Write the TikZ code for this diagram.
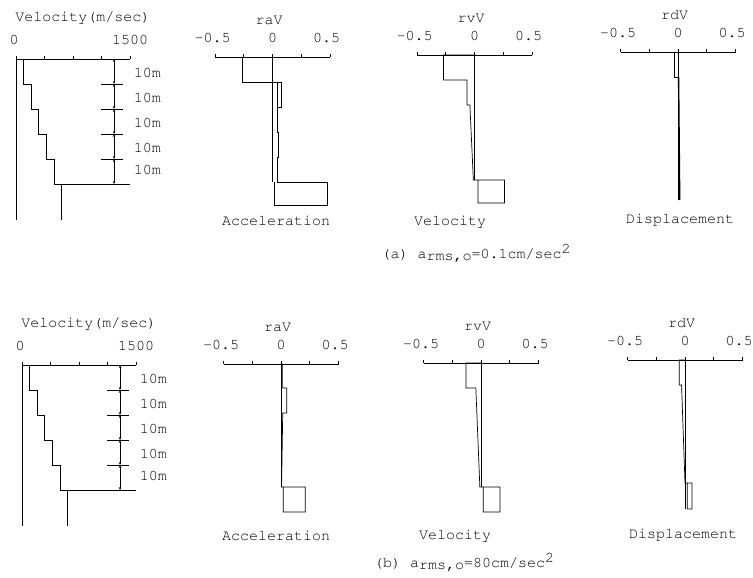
\documentclass[tikz,border=0pt]{standalone}
\usepackage{fontspec}
\setmonofont{Liberation Mono}
\usetikzlibrary{arrows.meta}
\tikzset{ % common looks
	axisline/.style={line width=0.7pt},
	prof/.style={line width=0.7pt},
	thickprof/.style={line width=1.4pt},
	lbl/.style={font=\fontencoding{T1}\fontfamily{pcr}\fontsize{15}{15}\selectfont, inner sep=0pt},
	dimline/.style={line width=0.6pt, {Stealth[length=3pt,width=2.5pt]}-{Stealth[length=3pt,width=2.5pt]}},
}
% response panel: name, zero x, axis y, title, zero line depth, profile, extra
\newcommand{\respanel}[7]{%
	\begin{scope}[shift={(#2,#3)},xscale=115]
		\draw [axisline] (-0.5,0) -- (0.5,0);
		\foreach \t in {-0.5,-0.25,0,0.25,0.5} \draw [axisline] (\t,0) -- (\t,-3);
		\node [lbl] (#1m) at (-0.52,-19) {-0.5};
		\node [lbl] (#1z) at (0,-19) {0};
		\node [lbl] (#1p) at (0.47,-19) {0.5};
		\node [lbl] (#1t) at (-0.03,-37) {#4};
		\draw [prof] (0,0) -- (0,#5);
		\draw [prof] #6;
		#7
	\end{scope}}
% soil profile: name, x0, y0
\newcommand{\velpanel}[3]{%
	\begin{scope}[shift={(#2,#3)},xscale=0.076]
		\draw [axisline] (0,0) -- (1500,0);
		\foreach \t in {0,375,...,1500} \draw [axisline] (\t,0) -- (\t,-3);
		\node [lbl] (#1zero) at (-25,-19) {0};
		\node [lbl] (#1max) at (1500,-19) {1500};
		\node [lbl] (#1title) at (880,-41) {Velocity(m/sec)};
		\draw [prof] (0,0) -- (0,161);
		\draw [prof] (100,0) -- (100,25) -- (200,25) -- (200,50) -- (300,50) -- (300,75)
			-- (400,75) -- (400,100) -- (500,100) -- (500,125) -- (600,125) -- (600,161);
		\draw [prof] (600,125) -- (1500,125);
		% layer marks
		\foreach \d in {25,50,75,100} \draw [prof] (1120,\d) -- (1410,\d);
		\foreach \a/\b in {0/25,25/50,50/75,75/100,100/125} \draw [dimline] (1290,\a) -- (1290,\b);
		\foreach \d [count=\i] in {14,39,64,89,111} \node [lbl] (#1layer\i) at (1730,\d) {10m};
	\end{scope}}

\begin{document}
\begin{tikzpicture}[x=1pt,y=-1pt]
	\useasboundingbox (0,0) rectangle (753,578);
	% (a) small input
	\velpanel{sa}{16}{59}
	\respanel{acca}{272.5}{57}{raV}{125}{(0,0) -- (-0.26,0) -- (-0.26,25) -- (0.08,25) -- (0.08,50)
		-- (0.04,50) -- (0.04,75) -- (0.05,75) -- (0.05,100) -- (0.04,100) -- (0.04,125)
		-- (0.48,125) -- (0.48,148) -- (0.02,148) -- (0.02,125)}{\draw [prof] (0.04,25) -- (0.04,50);}
	\respanel{vela}{474.5}{55}{rvV}{125}{(0,0) -- (-0.27,0) -- (-0.27,25) -- (-0.065,25) -- (-0.065,50)
		-- (-0.04,50) -- (-0.01,125) -- (0.26,125) -- (0.26,148) -- (0.03,148) -- (0.03,125)}{}
	\respanel{disa}{678}{52}{rdV}{148}{(0,0) -- (-0.035,0) -- (-0.035,25) -- (0,25)}
		{\draw [thickprof] (0.005,25) -- (0.015,148);}
	\node [lbl] (acclaba) at (276,221) {Acceleration};
	\node [lbl] (vellaba) at (450,222) {Velocity};
	\node [lbl] (dislaba) at (680,220) {Displacement};
	\node [lbl] (capa) at (476,253) {(a) a\raisebox{-2.5pt}{rms,o}=0.1cm/sec\raisebox{5pt}{2}};
	% (b) large input
	\velpanel{sb}{22}{365}
	\respanel{accb}{281}{364}{raV}{123}{(0,0) -- (0.01,0) -- (0.01,24) -- (0.05,24) -- (0.05,49)
		-- (0.015,49) -- (0.005,123) -- (0.21,123) -- (0.21,148) -- (0.02,148) -- (0.02,123)}{}
	\respanel{velb}{481}{363}{rvV}{124}{(0,0) -- (-0.13,0) -- (-0.13,25) -- (-0.045,25)
		-- (-0.01,124) -- (0.165,124) -- (0.165,149) -- (0.02,149) -- (0.02,124)}{}
	\respanel{disb}{685}{360}{rdV}{149}{(0,0) -- (-0.05,0) -- (-0.05,25) -- (-0.03,25)
		-- (0,123) -- (0.06,123) -- (0.06,149) -- (0.02,149) -- (0.02,123)}{}
	\node [lbl] (acclabb) at (276,536) {Acceleration};
	\node [lbl] (vellabb) at (455,536) {Velocity};
	\node [lbl] (dislabb) at (683,535) {Displacement};
	\node [lbl] (capb) at (464,562) {(b) a\raisebox{-2.5pt}{rms,o}=80cm/sec\raisebox{5pt}{2}};
\end{tikzpicture}
\end{document}
